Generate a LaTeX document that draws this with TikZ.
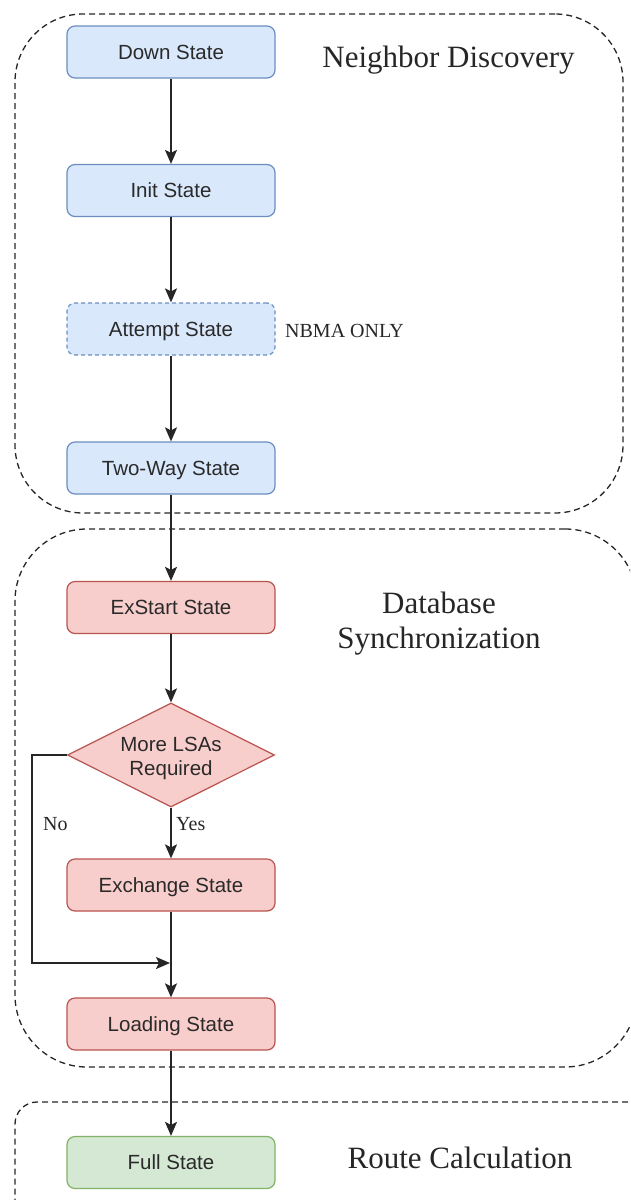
\documentclass[tikz,border=0pt]{standalone}
\usepackage{fontspec}
\setmainfont{Liberation Serif}
\newfontfamily\arialf{Liberation Sans}
\usetikzlibrary{shapes.geometric,arrows.meta}
\definecolor{bfill}{HTML}{DAE8FC}
\definecolor{bdraw}{HTML}{6C8EBF}
\definecolor{rfill}{HTML}{F8CECC}
\definecolor{rdraw}{HTML}{B85450}
\definecolor{gfill}{HTML}{D5E8D4}
\definecolor{gdraw}{HTML}{82B366}
\definecolor{txtc}{HTML}{2A2A2A}
\begin{document}
\begin{tikzpicture}[x=1pt,y=-1pt,
 statebox/.style={rectangle, rounded corners=8pt, minimum width=208pt, minimum height=52pt, inner sep=0pt, line width=1.2pt, font=\arialf\fontsize{20.5}{24}\selectfont, text=txtc, text height=14.7pt, text depth=0pt},
 bluebox/.style={statebox, fill=bfill, draw=bdraw},
 redbox/.style={statebox, fill=rfill, draw=rdraw},
 greenbox/.style={statebox, fill=gfill, draw=gdraw},
 decision/.style={diamond, minimum width=207pt, minimum height=104pt, inner sep=0pt, line width=1.2pt, fill=rfill, draw=rdraw},
 dectxt/.style={font=\arialf\fontsize{20.5}{24}\selectfont, text=txtc, align=center, inner sep=0pt},
 grp/.style={rectangle, draw=black!85, line width=1.3pt, dash pattern=on 6pt off 4pt, inner sep=0pt},
 conn/.style={draw=black!85, line width=1.8pt, -{Stealth[length=14pt,width=12pt,inset=3pt]}},
 grplabel/.style={font=\fontsize{31}{35}\selectfont, text=black!85, inner sep=0pt, align=center},
 note/.style={font=\fontsize{20}{24}\selectfont, text=black!85, inner sep=0pt}
]
\clip (0,0) rectangle (630,1200);
% groups
\node[grp, rounded corners=68pt, minimum width=608pt, minimum height=499pt] (g1) at (319,263.5) {};
\node[grp, rounded corners=72pt, minimum width=622pt, minimum height=538pt] (g2) at (326,798) {};
\node[grp, rounded corners=22pt, minimum width=665pt, minimum height=158pt] (g3) at (347.5,1181) {};
% group labels
\node[grplabel, anchor=base] (l1) at (448.5,67) {Neighbor Discovery};
\node[grplabel] (l2) at (439,623.3) {Database\\Synchronization};
\node[grplabel, anchor=base] (l3) at (460,1168) {Route Calculation};
% states
\node[bluebox] (down) at (171,52) {Down State};
\node[bluebox] (init) at (171,190.5) {Init State};
\node[bluebox, dash pattern=on 4pt off 3pt] (att) at (171,329) {Attempt State};
\node[bluebox] (two) at (171,468) {Two-Way State};
\node[redbox] (exs) at (171,607.5) {ExStart State};
\node[decision] (dec) at (171,755) {};
\node[dectxt] (dectext) at (171,758) {More LSAs\\Required};
\node[redbox] (exch) at (171,885) {Exchange State};
\node[redbox] (load) at (171,1024) {Loading State};
\node[greenbox] (full) at (171,1162.5) {Full State};
% notes
\node[note, anchor=base west] (nbma) at (285,337) {NBMA ONLY};
\node[note, anchor=base west] (no) at (43,830) {No};
\node[note, anchor=base west] (yes) at (176,830) {Yes};
% connectors
\draw[conn] (down.south) -- (init.north);
\draw[conn] (init.south) -- (att.north);
\draw[conn] (att.south) -- (two.north);
\draw[conn] (two.south) -- (exs.north);
\draw[conn] (exs.south) -- (dec.north);
\draw[conn] (dec.south) -- (exch.north);
\draw[conn] (exch.south) -- (load.north);
\draw[conn] (load.south) -- (full.north);
\coordinate (nocorner) at (32,755);
\coordinate (nojoin) at (170,963);
\draw[conn] (dec.west) -- (nocorner) |- (nojoin);
\end{tikzpicture}
\end{document}
